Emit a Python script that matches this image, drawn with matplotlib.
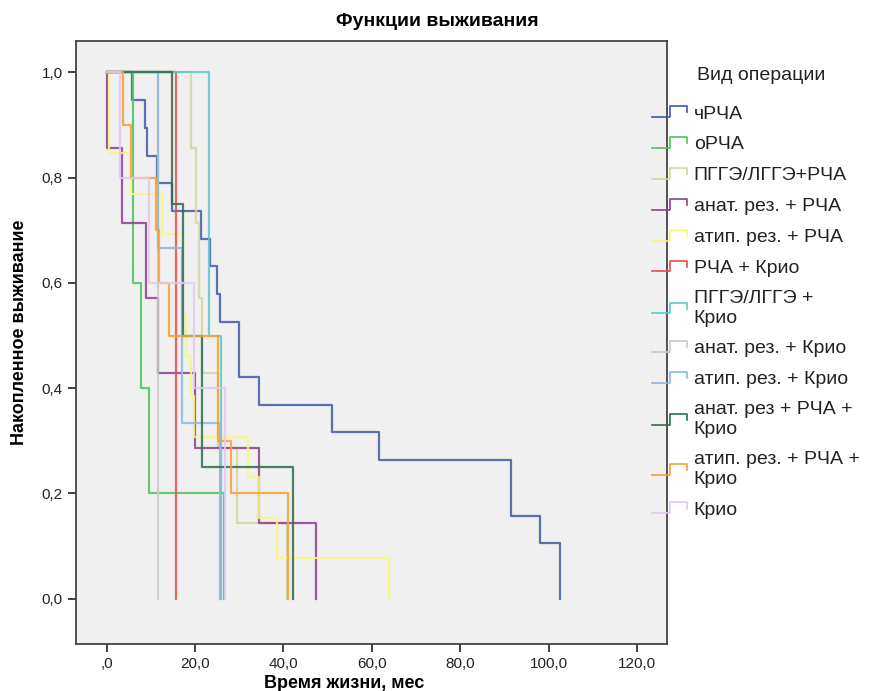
import numpy as np
import matplotlib.pyplot as plt
from matplotlib.lines import Line2D
from matplotlib.legend_handler import HandlerBase

plt.rcParams['font.family'] = ['Liberation Sans', 'DejaVu Sans']

# Группы (вид операции) и их цвета
groups = ['чРЧА', 'оРЧА', 'ПГГЭ/ЛГГЭ+РЧА', 'анат. рез. + РЧА', 'атип. рез. + РЧА',
          'РЧА + Крио', 'ПГГЭ/ЛГГЭ +\nКрио', 'анат. рез. + Крио', 'атип. рез. + Крио',
          'анат. рез + РЧА +\nКрио', 'атип. рез. + РЧА +\nКрио', 'Крио']
colors = ['#3e58ac', '#4cc25e', '#d8d3a4', '#8a3f8b', '#faf67a', '#ef4a4f',
          '#5cc9cc', '#c8c8c8', '#8fb8de', '#2b6e48', '#f8a030', '#e2c8f2']

# Время (мес) и накопленное выживание для каждой группы
chrca_t = [0, 5.8, 8.6, 9.1, 11.4, 14.8, 21.4, 23.4, 25.0, 25.6, 30.0, 34.6, 50.9, 61.6, 91.5, 98.0, 102.6]
chrca_s = [1.0, 0.947, 0.895, 0.842, 0.789, 0.737, 0.684, 0.632, 0.579, 0.526, 0.421, 0.368, 0.316, 0.263, 0.158, 0.105, 0.0]
orca_t = [0, 5.9, 7.8, 9.6, 26.6]
orca_s = [1.0, 0.6, 0.4, 0.2, 0.0]
pgge_rca_t = [0, 19.1, 20.3, 21.0, 21.7, 25.2, 29.5, 40.8]
pgge_rca_s = [1.0, 0.857, 0.714, 0.571, 0.429, 0.286, 0.143, 0.0]
anat_rca_t = [0, 0.2, 3.4, 8.9, 11.7, 20.0, 34.5, 47.3]
anat_rca_s = [1.0, 0.857, 0.714, 0.571, 0.429, 0.286, 0.143, 0.0]
atip_rca_t = [0, 0.6, 5.5, 12.5, 17.4, 18.0, 19.1, 19.7, 32.1, 34.6, 38.5, 63.8]
atip_rca_s = [1.0, 0.846, 0.769, 0.692, 0.538, 0.462, 0.385, 0.308, 0.231, 0.154, 0.077, 0.0]
rca_krio_t = [0, 15.8]
rca_krio_s = [1.0, 0.0]
pgge_krio_t = [0, 23.2, 25.8]
pgge_krio_s = [1.0, 0.5, 0.0]
anat_krio_t = [0, 11.6]
anat_krio_s = [1.0, 0.0]
atip_krio_t = [0, 11.7, 17.1, 25.7]
atip_krio_s = [1.0, 0.667, 0.333, 0.0]
anat_rca_krio_t = [0, 14.8, 17.4, 21.6, 42.1]
anat_rca_krio_s = [1.0, 0.75, 0.5, 0.25, 0.0]
atip_rca_krio_t = [0, 3.7, 5.5, 11.2, 11.9, 14.2, 25.2, 28.2, 41.0]
atip_rca_krio_s = [1.0, 0.9, 0.8, 0.7, 0.6, 0.5, 0.3, 0.2, 0.0]
krio_t = [0, 3.1, 9.5, 19.7, 26.9]
krio_s = [1.0, 0.8, 0.6, 0.4, 0.0]

times = [chrca_t, orca_t, pgge_rca_t, anat_rca_t, atip_rca_t, rca_krio_t,
         pgge_krio_t, anat_krio_t, atip_krio_t, anat_rca_krio_t, atip_rca_krio_t, krio_t]
survs = [chrca_s, orca_s, pgge_rca_s, anat_rca_s, atip_rca_s, rca_krio_s,
         pgge_krio_s, anat_krio_s, atip_krio_s, anat_rca_krio_s, atip_rca_krio_s, krio_s]

x_ticks = [0, 20, 40, 60, 80, 100, 120]
x_labels = [',0', '20,0', '40,0', '60,0', '80,0', '100,0', '120,0']
y_ticks = [0.0, 0.2, 0.4, 0.6, 0.8, 1.0]
y_labels = ['0,0', '0,2', '0,4', '0,6', '0,8', '1,0']


class StepHandler(HandlerBase):
    # значок легенды в виде ступеньки, как в SPSS
    def create_artists(self, legend, orig_handle, xdescent, ydescent,
                       width, height, fontsize, trans):
        xs = np.array([0, 0.5, 0.5, 1.0, 1.0]) * width - xdescent
        ys = np.array([0.1, 0.1, 0.9, 0.9, 0.45]) * height - ydescent
        line = Line2D(xs, ys, color=orig_handle.get_color(), lw=1.2)
        line.set_transform(trans)
        return [line]


fig = plt.figure(figsize=(8.84, 6.91), dpi=100)
ax = fig.add_axes([0.086, 0.068, 0.668, 0.873])
ax.set_facecolor('#f0f0f0')

handles = []
for name, col, t, s in zip(groups, colors, times, survs):
    ln, = ax.step(t, s, where='post', color=col, lw=1.6, alpha=0.85, label=name)
    handles.append(ln)

ax.set_xlim(-6.9, 126.7)
ax.set_ylim(-0.086, 1.06)
ax.set_xticks(x_ticks)
ax.set_xticklabels(x_labels, fontsize=11, color='#222222')
ax.set_yticks(y_ticks)
ax.set_yticklabels(y_labels, fontsize=11, color='#222222')
ax.tick_params(direction='out', length=6, width=1.3, color='#333333')
for sp in ax.spines.values():
    sp.set_color('#444444')
    sp.set_linewidth(1.3)

fig.text(437 / 884, 1 - 22 / 691, 'Функции выживания', ha='center', va='center',
         fontsize=14, fontweight='bold')
fig.text(344 / 884, 1 - 683 / 691, 'Время жизни, мес', ha='center', va='center',
         fontsize=13, fontweight='bold')
fig.text(20 / 884, 1 - 332 / 691, 'Накопленное выживание', ha='center', va='center',
         rotation=90, fontsize=13, fontweight='bold')
fig.text(697 / 884, 1 - 76 / 691, 'Вид операции', ha='left', va='center',
         fontsize=14, color='#222222')

fig.legend(handles=handles, labels=groups, loc='upper left',
           bbox_to_anchor=(652 / 884, 1 - 105 / 691), frameon=False,
           handler_map={Line2D: StepHandler()}, fontsize=14,
           handlelength=1.8, handletextpad=0.35, labelspacing=0.68,
           borderpad=0, borderaxespad=0, labelcolor='#222222')

fig.savefig('out.png', dpi=100)
